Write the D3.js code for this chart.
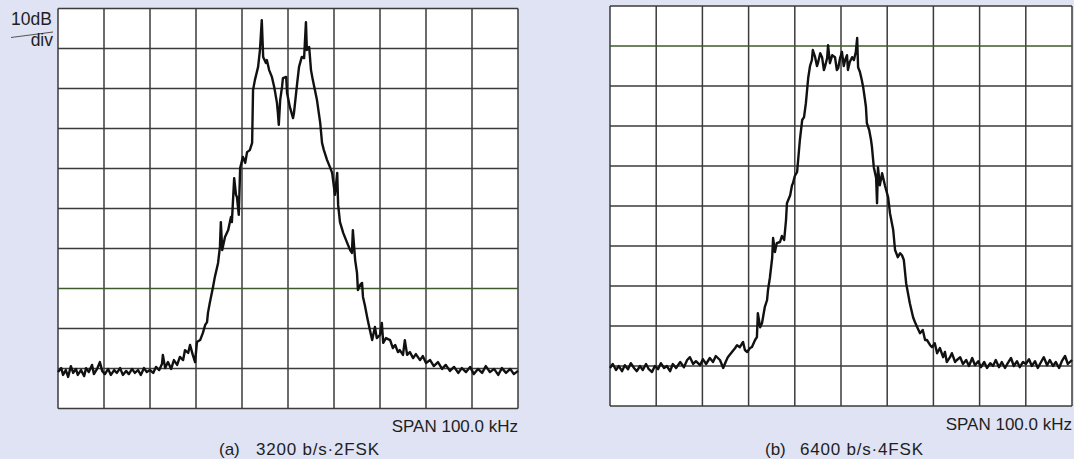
<!DOCTYPE html>
<html>
<head>
<meta charset="utf-8">
<script src="https://cdn.jsdelivr.net/npm/d3@7"></script>
<style>
  html, body { margin: 0; padding: 0; background: #dfe3f4; }
  svg { display: block; }
  text { font-family: "Liberation Sans", Arial, Helvetica, sans-serif; fill: #1e1e1e; }
</style>
</head>
<body>
<svg id="chart" width="1074" height="459"></svg>
<script>
// ---- Data (frequency offset in kHz from centre, level in dB; 10 dB/div, span 100 kHz) ----
const xTicks = [-50, -40, -30, -20, -10, 0, 10, 20, 30, 40, 50];
const yTicks = [0, -10, -20, -30, -40, -50, -60, -70, -80, -90, -100];
const scaleLabel = ["10dB", "div"];
const spanLabel = "SPAN 100.0 kHz";
const captionTags = ["(a)", "(b)"];
const captionTexts = ["3200 b/s·2FSK", "6400 b/s·4FSK"];

// (a) 3200 b/s 2FSK
const spectrumA = [
[-50.0,-90.9],[-49.3,-89.9],[-48.9,-91.6],[-48.3,-90.4],[-47.8,-92.1],[-47.2,-89.4],[-46.7,-91.1],[-46.1,-90.1],
[-45.7,-91.6],[-45.0,-90.4],[-44.3,-91.9],[-43.9,-89.9],[-43.3,-90.9],[-42.6,-89.1],[-42.2,-91.4],[-41.5,-90.1],
[-40.9,-88.4],[-40.4,-90.6],[-39.8,-91.4],[-39.1,-90.1],[-38.5,-91.6],[-37.8,-90.4],[-37.2,-91.1],[-36.5,-89.9],
[-35.9,-91.6],[-35.2,-90.6],[-34.6,-91.4],[-33.9,-90.1],[-33.3,-91.1],[-32.6,-90.4],[-32.0,-91.6],[-31.3,-89.9],
[-30.7,-90.9],[-30.0,-90.4],[-29.3,-91.1],[-28.7,-89.6],[-28.0,-90.4],[-27.4,-88.9],[-27.2,-86.6],[-26.7,-89.9],
[-26.1,-88.4],[-25.4,-90.1],[-24.8,-87.9],[-24.1,-89.1],[-23.5,-87.1],[-22.8,-87.9],[-22.4,-85.4],[-21.7,-86.1],
[-21.3,-84.1],[-20.7,-86.6],[-20.2,-88.4],[-19.8,-83.4],[-19.1,-82.9],[-18.5,-81.1],[-18.0,-79.1],[-17.6,-78.4],
[-17.4,-76.1],[-17.0,-73.6],[-16.3,-69.6],[-15.9,-67.1],[-15.2,-63.6],[-14.8,-59.6],[-14.6,-53.4],[-14.3,-60.4],
[-13.7,-57.1],[-13.0,-55.4],[-12.4,-52.1],[-12.2,-53.4],[-11.7,-42.4],[-11.3,-46.6],[-11.1,-47.1],[-10.7,-51.6],
[-10.4,-39.9],[-9.8,-37.1],[-9.3,-38.6],[-8.9,-35.9],[-8.3,-35.4],[-7.8,-33.6],[-7.6,-20.4],[-7.2,-17.9],
[-6.5,-14.6],[-6.1,-10.4],[-5.7,-2.9],[-5.4,-12.1],[-4.8,-13.6],[-4.6,-12.9],[-4.1,-15.4],[-3.5,-17.1],
[-3.0,-19.6],[-2.4,-23.6],[-2.2,-26.1],[-2.0,-29.1],[-1.7,-22.9],[-1.3,-19.6],[-1.1,-17.4],[-0.4,-17.1],
[-0.2,-21.1],[0.4,-24.6],[1.1,-27.4],[1.3,-26.1],[2.0,-18.6],[2.4,-14.6],[3.0,-12.1],[3.5,-12.4],
[3.9,-3.4],[4.1,-10.4],[4.6,-9.6],[5.0,-15.4],[5.4,-17.9],[6.3,-22.9],[7.0,-28.6],[7.4,-33.6],
[7.8,-35.4],[8.5,-37.9],[9.1,-39.6],[9.6,-41.1],[9.8,-42.9],[10.2,-46.6],[10.7,-41.1],[10.9,-49.1],
[11.3,-53.4],[12.0,-56.1],[12.8,-58.4],[13.5,-60.4],[13.9,-61.1],[14.1,-55.4],[14.6,-62.9],[15.0,-66.1],
[15.2,-70.4],[15.7,-69.1],[16.1,-68.6],[16.3,-72.1],[16.7,-74.1],[17.2,-77.1],[17.8,-80.4],[18.3,-82.9],
[18.9,-79.6],[19.3,-82.4],[20.0,-81.6],[20.4,-78.6],[20.7,-83.6],[21.3,-82.4],[22.2,-82.9],[22.8,-84.9],
[23.3,-84.1],[23.9,-85.9],[24.3,-85.4],[25.0,-86.6],[25.4,-82.9],[25.9,-86.6],[26.5,-85.9],[27.2,-87.4],
[27.8,-86.4],[28.7,-87.9],[29.3,-86.9],[30.0,-88.6],[30.9,-87.9],[31.7,-89.4],[32.6,-88.4],[33.5,-90.1],
[34.3,-89.1],[35.2,-90.6],[36.1,-89.6],[37.0,-91.1],[37.8,-89.9],[38.7,-90.9],[39.6,-89.6],[40.4,-91.4],
[41.3,-90.1],[42.2,-91.1],[43.0,-89.4],[43.9,-90.9],[44.8,-90.1],[45.7,-91.6],[46.5,-89.9],[47.4,-91.1],
[48.3,-90.1],[49.1,-91.4],[50.0,-90.6]
];

// (b) 6400 b/s 4FSK
const spectrumB = [
[-50.0,-90.5],[-49.4,-89.5],[-48.7,-91.0],[-48.1,-90.0],[-47.4,-91.3],[-46.8,-89.8],[-46.1,-90.8],[-45.5,-89.3],
[-44.8,-90.5],[-44.2,-91.3],[-43.5,-90.0],[-42.9,-91.0],[-42.2,-89.5],[-41.6,-90.8],[-40.9,-91.5],[-40.3,-90.0],
[-39.6,-90.8],[-39.0,-89.3],[-38.3,-90.5],[-37.7,-90.0],[-37.0,-91.3],[-36.4,-89.5],[-35.7,-90.5],[-34.8,-89.0],
[-34.0,-90.3],[-33.3,-88.5],[-32.7,-87.8],[-32.0,-89.5],[-31.4,-88.8],[-30.5,-89.8],[-29.9,-88.3],[-29.2,-89.5],
[-28.4,-88.0],[-27.7,-89.0],[-27.1,-87.5],[-26.2,-88.5],[-25.5,-90.5],[-24.9,-88.8],[-24.5,-87.8],[-23.6,-86.5],
[-22.9,-85.5],[-22.5,-84.8],[-21.9,-85.3],[-21.2,-84.0],[-20.8,-86.0],[-20.3,-86.5],[-19.7,-85.5],[-19.3,-85.3],
[-18.6,-83.5],[-18.2,-82.8],[-18.0,-76.8],[-17.5,-80.3],[-17.1,-79.3],[-16.5,-75.3],[-16.0,-73.5],[-15.8,-71.0],
[-15.4,-68.0],[-14.9,-63.0],[-14.7,-58.0],[-14.3,-61.5],[-13.9,-59.3],[-13.2,-59.0],[-12.8,-57.5],[-12.3,-58.5],
[-11.9,-53.5],[-11.7,-49.3],[-11.0,-47.3],[-10.6,-44.8],[-10.4,-44.3],[-10.0,-42.5],[-9.5,-41.5],[-8.9,-33.5],
[-8.4,-28.5],[-8.0,-27.8],[-7.6,-24.3],[-7.1,-18.0],[-6.7,-15.0],[-6.3,-13.5],[-6.1,-11.0],[-5.6,-12.8],
[-5.2,-15.0],[-5.0,-14.3],[-4.5,-11.8],[-4.1,-12.8],[-3.7,-16.0],[-3.5,-15.3],[-3.0,-13.0],[-2.8,-9.8],
[-2.4,-14.3],[-1.9,-12.3],[-1.3,-12.8],[-0.9,-16.0],[-0.6,-15.5],[-0.2,-13.0],[0.2,-11.5],[0.6,-15.0],
[0.9,-13.5],[1.3,-12.3],[1.5,-16.0],[1.9,-14.0],[2.4,-12.8],[2.8,-13.5],[3.2,-11.5],[3.5,-8.0],
[3.7,-15.3],[4.1,-16.5],[4.5,-18.5],[4.8,-20.3],[5.2,-23.5],[5.4,-25.3],[5.6,-29.3],[6.1,-31.0],
[6.5,-33.5],[6.7,-35.3],[7.1,-40.3],[7.6,-43.0],[7.8,-49.3],[8.0,-40.3],[8.4,-44.8],[8.9,-41.8],
[9.5,-44.8],[10.2,-47.8],[10.6,-51.8],[11.3,-56.0],[11.7,-61.0],[12.3,-62.8],[12.8,-61.8],[13.2,-62.3],
[13.6,-63.5],[14.1,-69.3],[14.5,-71.8],[14.9,-74.3],[15.6,-77.8],[16.0,-79.0],[16.5,-80.3],[17.1,-81.8],
[17.7,-81.0],[18.2,-83.5],[18.6,-83.5],[19.3,-84.8],[19.7,-85.3],[20.3,-84.3],[20.8,-86.8],[21.4,-85.5],
[22.1,-87.8],[22.5,-86.5],[22.9,-89.0],[23.6,-87.8],[24.0,-86.8],[24.7,-89.0],[25.1,-88.5],[25.8,-87.8],
[26.4,-89.5],[27.1,-88.5],[27.7,-90.0],[28.4,-88.0],[29.0,-89.8],[29.7,-88.8],[30.3,-90.3],[31.0,-89.0],
[31.6,-90.5],[32.3,-89.3],[32.9,-90.0],[33.5,-88.5],[34.2,-90.3],[34.8,-89.0],[35.5,-90.5],[36.1,-89.3],
[36.8,-88.0],[37.4,-90.0],[38.1,-88.8],[38.7,-90.3],[39.4,-89.0],[40.0,-89.5],[40.7,-88.3],[41.3,-90.0],
[42.0,-88.8],[42.6,-90.5],[43.3,-89.0],[43.9,-87.8],[44.6,-89.8],[45.2,-88.5],[45.9,-90.0],[46.5,-89.0],
[47.2,-90.5],[47.8,-88.8],[48.5,-87.5],[49.1,-89.5],[50.0,-88.5]
];

// ---- Drawing ----
const svg = d3.select("#chart");

const panels = [
  { data: spectrumA, x0: 58, x1: 518, y0: 8.5, y1: 408.5, green: -70, spanY: 432, tag: captionTags[0], cap: captionTexts[0], tagX: 219, capX: 256 },
  { data: spectrumB, x0: 610, x1: 1072, y0: 6, y1: 406, green: -10, spanY: 430, tag: captionTags[1], cap: captionTexts[1], tagX: 765, capX: 800 }
];

panels.forEach(p => {
  const x = d3.scaleLinear().domain([-50, 50]).range([p.x0, p.x1]);
  const y = d3.scaleLinear().domain([0, -100]).range([p.y0, p.y1]);
  const g = svg.append("g");

  g.append("rect")
    .attr("x", p.x0).attr("y", p.y0)
    .attr("width", p.x1 - p.x0).attr("height", p.y1 - p.y0)
    .attr("fill", "#ffffff");

  // vertical grid
  g.selectAll("line.v").data(xTicks).enter().append("line")
    .attr("class", "v")
    .attr("x1", d => x(d)).attr("x2", d => x(d))
    .attr("y1", p.y0).attr("y2", p.y1)
    .attr("stroke", "#3b3b3b").attr("stroke-width", 1.5);

  // horizontal grid
  g.selectAll("line.h").data(yTicks).enter().append("line")
    .attr("class", "h")
    .attr("x1", p.x0).attr("x2", p.x1)
    .attr("y1", d => y(d)).attr("y2", d => y(d))
    .attr("stroke", d => d === p.green ? "#3f5a2c" : "#3b3b3b")
    .attr("stroke-width", 1.5);

  // trace
  const line = d3.line().x(d => x(d[0])).y(d => y(d[1]));
  g.append("path")
    .datum(p.data)
    .attr("d", line)
    .attr("fill", "none")
    .attr("stroke", "#111")
    .attr("stroke-width", 2.4)
    .attr("stroke-linejoin", "round");

  // span label
  g.append("text")
    .attr("x", p.x1).attr("y", p.spanY)
    .attr("text-anchor", "end")
    .attr("font-size", 17)
    .text(spanLabel);

  // caption
  g.append("text")
    .attr("x", p.tagX).attr("y", 455)
    .attr("font-size", 17)
    .text(p.tag);
  g.append("text")
    .attr("x", p.capX).attr("y", 455)
    .attr("font-size", 17)
    .attr("letter-spacing", 0.8)
    .text(p.cap);
});

// 10dB / div label
svg.append("text").attr("x", 11).attr("y", 25).attr("font-size", 17.5).text(scaleLabel[0]);
svg.append("line").attr("x1", 11).attr("y1", 37.5).attr("x2", 53).attr("y2", 32)
  .attr("stroke", "#555").attr("stroke-width", 1.2);
svg.append("text").attr("x", 53).attr("y", 46).attr("text-anchor", "end").attr("font-size", 17.5).text(scaleLabel[1]);
</script>
</body>
</html>
